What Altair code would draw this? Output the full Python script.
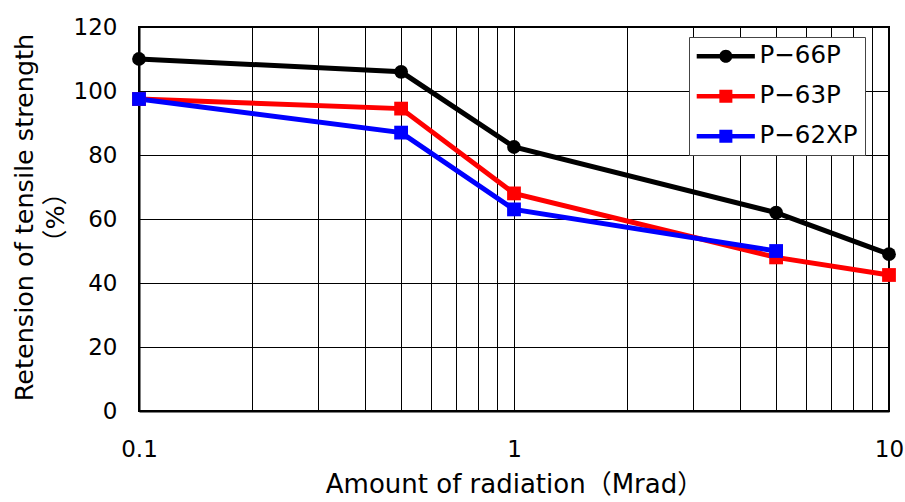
import altair as alt
import pandas as pd

# Radiation dose (Mrad) and retention of tensile strength (%) per grade
dose = [0.1, 0.5, 1, 5, 10]
series_names = ["P−66P", "P−63P", "P−62XP"]
p66p = [110, 106, 82.5, 62, 49]
p63p = [97.5, 94.5, 68, 48, 42.5]
p62xp = [97.5, 87, 63, 50]
markers = ["circle", "square", "square"]
colors = ["#000000", "#ff0000", "#0000ff"]

# Axis ticks / gridlines
x_grid = [0.1, 0.2, 0.3, 0.4, 0.5, 0.6, 0.7, 0.8, 0.9, 1,
          2, 3, 4, 5, 6, 7, 8, 9, 10]
x_labels = {0.1: "0.1", 1: "1", 10: "10"}
y_ticks = [0, 20, 40, 60, 80, 100, 120]

rows = []
for name, vals, mk in zip(series_names, [p66p, p63p, p62xp], markers):
    for d, v in zip(dose, vals):
        rows.append({"dose": d, "retention": v, "series": name, "marker": mk})
df = pd.DataFrame(rows)

label_expr = " : ".join(
    f"datum.value == {k} ? '{v}'" for k, v in x_labels.items()
) + " : ''"

x_enc = alt.X(
    "dose:Q",
    scale=alt.Scale(type="log", domain=[0.1, 10], nice=False),
    axis=alt.Axis(
        values=x_grid,
        labelExpr=label_expr,
        labelOverlap=False,
        labelFlush=False,
        ticks=False,
        labelPadding=27,
        title="Amount of radiation（Mrad）",
        titleY=81,
        titleBaseline="alphabetic",
    ),
)
y_enc = alt.Y(
    "retention:Q",
    scale=alt.Scale(domain=[0, 120], nice=False),
    axis=alt.Axis(
        values=y_ticks,
        ticks=False,
        labelPadding=22,
        title=["Retension of tensile strength", "（%）"],
        titleX=-102,
        titleY=190,
        titleBaseline="bottom",
        titleLineHeight=31,
        titleFontSize=25.5,
    ),
)
color_scale = alt.Scale(domain=series_names, range=colors)

base = alt.Chart(df)

# Legend glyphs: a short line with the series marker on it
line_path = "M-1.77,-0.36H7.15V0.36H-1.77Z"
circle_path = line_path + "M3.7,0A1,1 0 1,1 1.7,0A1,1 0 1,1 3.7,0Z"
square_path = line_path + "M1.7,-1H3.7V1H1.7Z"
legend_paths = [circle_path if m == "circle" else square_path for m in markers]

legend_layer = base.mark_point(filled=True, opacity=0, size=170).encode(
    x=x_enc,
    y=y_enc,
    color=alt.Color("series:N", scale=color_scale, title=None,
                    legend=alt.Legend(title=None, symbolOpacity=1)),
    shape=alt.Shape("series:N",
                    scale=alt.Scale(domain=series_names, range=legend_paths),
                    title=None,
                    legend=alt.Legend(title=None, symbolOpacity=1)),
)

lines = base.mark_line(strokeWidth=5).encode(
    x=x_enc,
    y=y_enc,
    color=alt.Color("series:N", scale=color_scale, legend=None, title=None),
    order=alt.Order("dose:Q"),
)

points = base.mark_point(filled=True, opacity=1, size=190).encode(
    x=x_enc,
    y=y_enc,
    color=alt.Color("series:N", scale=color_scale, legend=None, title=None),
    shape=alt.Shape("marker:N", scale=None),
)

chart = (
    alt.layer(legend_layer, lines, points)
    .properties(
        width=750,
        height=384,
        autosize="none",
        padding={"left": 139, "top": 27, "right": 16, "bottom": 91},
    )
    .configure_view(stroke="#000000", strokeWidth=2)
    .configure_axis(
        grid=True,
        gridColor="#000000",
        gridOpacity=1,
        gridWidth=1,
        domainColor="#000000",
        domainWidth=2,
        labelFont="DejaVu Sans",
        labelFontSize=23,
        labelColor="#000000",
        titleFont="DejaVu Sans, Noto Sans CJK JP",
        titleFontSize=26,
        titleFontWeight="normal",
        titleColor="#000000",
    )
    .configure_legend(
        orient="none",
        legendX=550,
        legendY=10,
        strokeColor="#444444",
        strokeWidth=1,
        fillColor="#ffffff",
        padding=7,
        symbolSize=170,
        symbolStrokeWidth=0,
        labelFont="DejaVu Sans",
        labelFontSize=24.5,
        labelColor="#000000",
        labelOffset=39,
        rowPadding=15,
    )
)

chart.save("out.html", embed_options={"renderer": "svg", "actions": False})
